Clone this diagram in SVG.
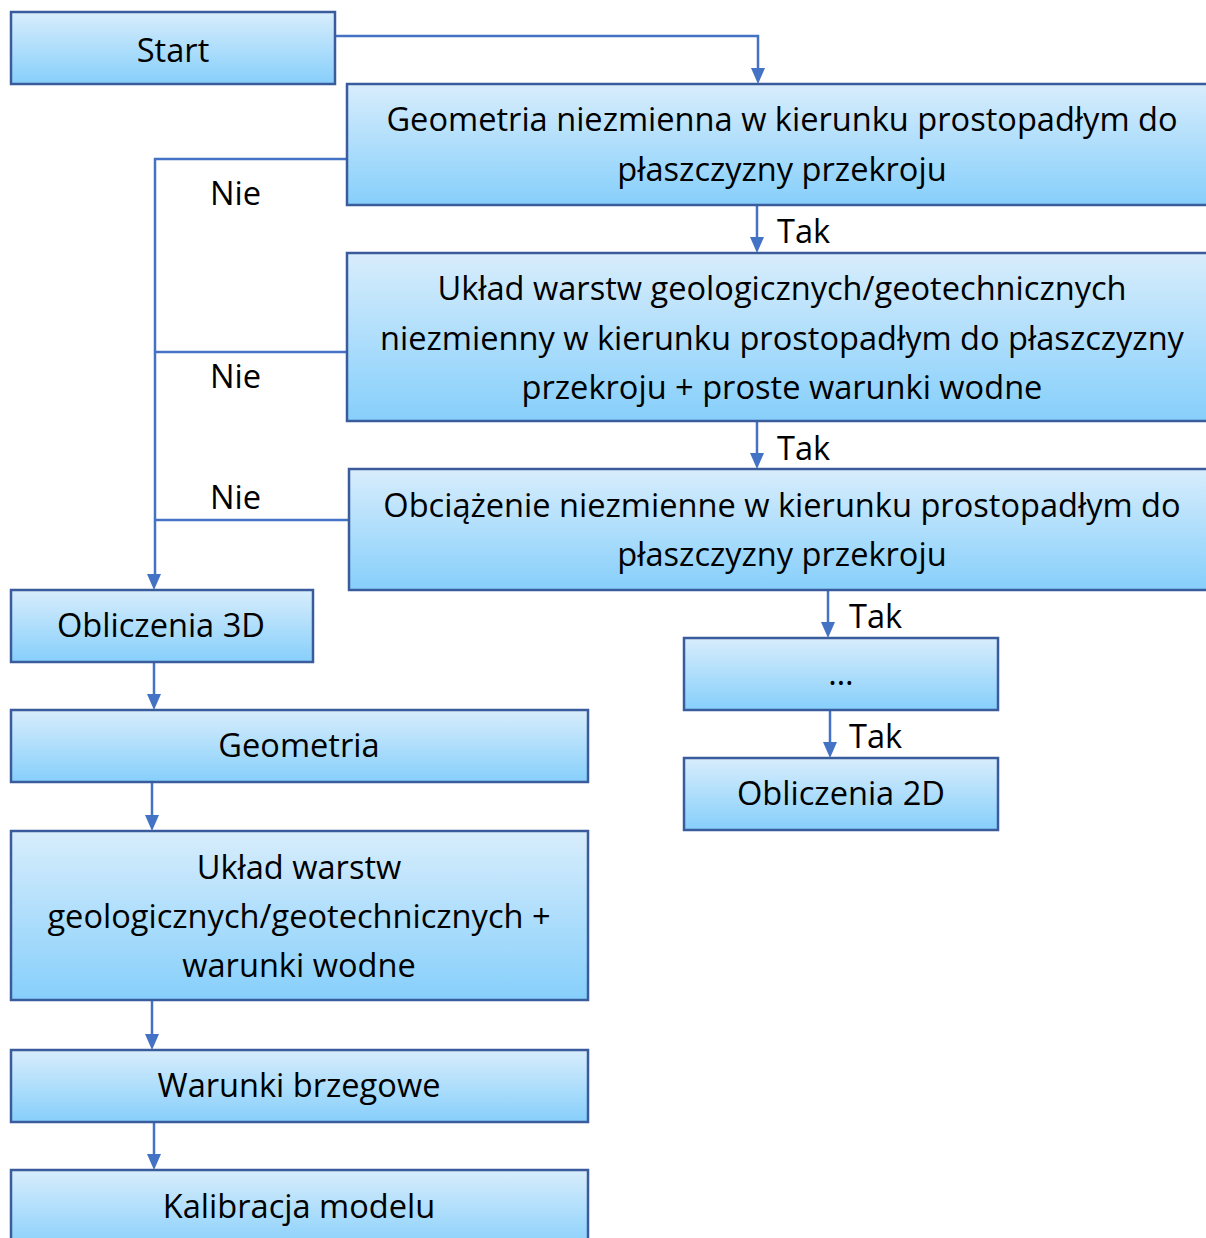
<svg xmlns="http://www.w3.org/2000/svg" width="1206" height="1238" viewBox="0 0 1206 1238">
<defs>
<linearGradient id="g" x1="0" y1="0" x2="0" y2="1">
<stop offset="0" stop-color="#d8edfc"/>
<stop offset="1" stop-color="#86cffb"/>
</linearGradient>
</defs>
<style>
.box{fill:url(#g);stroke:#3a5c9c;stroke-width:2.5}
.t{font-family:"Open Sans","Noto Sans",sans-serif;font-size:32.6px;fill:#000;text-anchor:middle}
.l{font-family:"Open Sans","Noto Sans",sans-serif;font-size:32.6px;fill:#000}
.c{fill:none;stroke:#4472c4;stroke-width:2.5}
.h{fill:#4472c4}
</style>
<rect width="1206" height="1238" fill="#fff"/>
<g id="connectors">
<path class="c" d="M335,36 H758 V70"/><path class="h" d="M751,68 L765,68 L758,84 Z"/>
<path class="c" d="M757,205 V239"/><path class="h" d="M750,237 L764,237 L757,253 Z"/>
<path class="c" d="M757,421 V455"/><path class="h" d="M750,453 L764,453 L757,469 Z"/>
<path class="c" d="M828,590 V624"/><path class="h" d="M821,622 L835,622 L828,638 Z"/>
<path class="c" d="M830,710 V744"/><path class="h" d="M823,742 L837,742 L830,758 Z"/>
<path class="c" d="M347,159 H155 V576"/>
<path class="c" d="M347,352 H155"/>
<path class="c" d="M349,520 H155"/>
<path class="h" d="M147,574 L161,574 L154,590 Z"/>
<path class="c" d="M154,662 V696"/><path class="h" d="M147,694 L161,694 L154,710 Z"/>
<path class="c" d="M152,782 V817"/><path class="h" d="M145,815 L159,815 L152,831 Z"/>
<path class="c" d="M152,1000 V1036"/><path class="h" d="M145,1034 L159,1034 L152,1050 Z"/>
<path class="c" d="M154,1122 V1156"/><path class="h" d="M147,1154 L161,1154 L154,1170 Z"/>
<text class="l" x="777" y="243">Tak</text>
<text class="l" x="777" y="460">Tak</text>
<text class="l" x="849" y="628">Tak</text>
<text class="l" x="849" y="748">Tak</text>
<text class="l" x="210" y="205">Nie</text>
<text class="l" x="210" y="388">Nie</text>
<text class="l" x="210" y="509">Nie</text>
</g>
<g id="start"><rect class="box" x="11" y="12" width="324" height="72"/><text class="t" x="173" y="62">Start</text></g>
<g id="geom-cond"><rect class="box" x="347" y="84" width="870" height="121"/><text class="t" x="782" y="131">Geometria niezmienna w kierunku prostopadłym do</text><text class="t" x="782" y="181">płaszczyzny przekroju</text></g>
<g id="layers-cond"><rect class="box" x="347" y="253" width="870" height="168"/><text class="t" x="782" y="300">Układ warstw geologicznych/geotechnicznych</text><text class="t" x="782" y="350">niezmienny w kierunku prostopadłym do płaszczyzny</text><text class="t" x="782" y="399">przekroju + proste warunki wodne</text></g>
<g id="load-cond"><rect class="box" x="349" y="469" width="868" height="121"/><text class="t" x="782" y="517">Obciążenie niezmienne w kierunku prostopadłym do</text><text class="t" x="782" y="566">płaszczyzny przekroju</text></g>
<g id="calc3d"><rect class="box" x="11" y="590" width="302" height="72"/><text class="t" x="161" y="637">Obliczenia 3D</text></g>
<g id="geometria"><rect class="box" x="11" y="710" width="577" height="72"/><text class="t" x="299" y="757">Geometria</text></g>
<g id="layers"><rect class="box" x="11" y="831" width="577" height="169"/><text class="t" x="299" y="879">Układ warstw</text><text class="t" x="299" y="928">geologicznych/geotechnicznych +</text><text class="t" x="299" y="977">warunki wodne</text></g>
<g id="boundary"><rect class="box" x="11" y="1050" width="577" height="72"/><text class="t" x="299" y="1097">Warunki brzegowe</text></g>
<g id="calibration"><rect class="box" x="11" y="1170" width="577" height="80"/><text class="t" x="299" y="1218">Kalibracja modelu</text></g>
<g id="dots"><rect class="box" x="684" y="638" width="314" height="72"/><text class="t" x="841" y="685">…</text></g>
<g id="calc2d"><rect class="box" x="684" y="758" width="314" height="72"/><text class="t" x="841" y="805">Obliczenia 2D</text></g>
</svg>
